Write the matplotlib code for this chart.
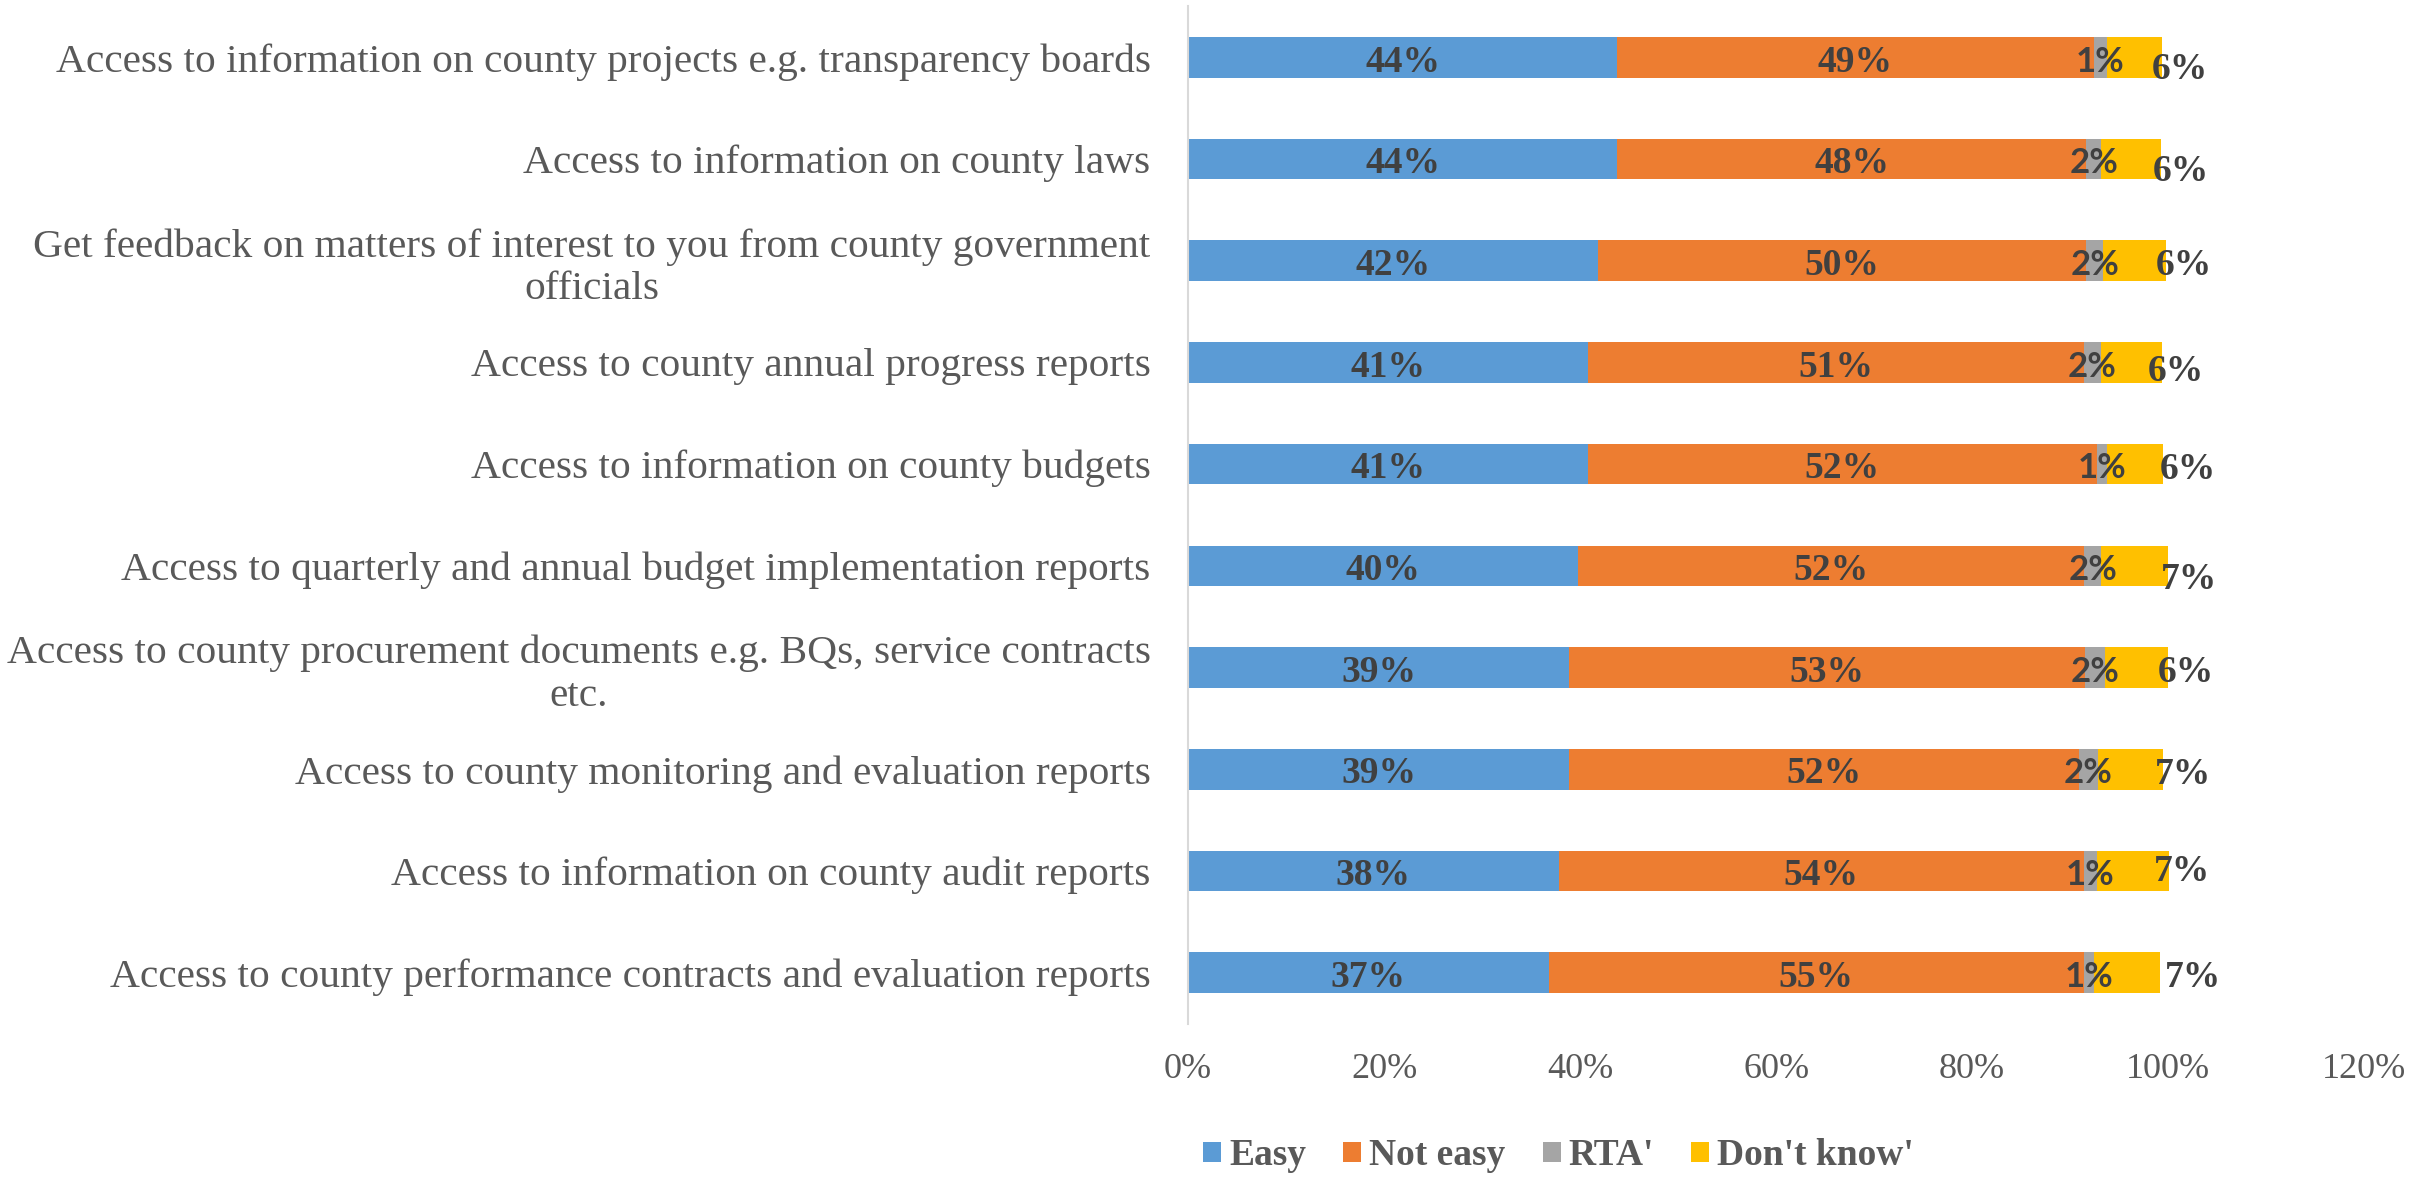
import matplotlib
matplotlib.use("Agg")
import matplotlib.pyplot as plt
from matplotlib.patches import Patch

# ---- data (percent), top bar first ----------------------------------------
categories = [
    "Access to information on county projects e.g. transparency boards",
    "Access to information on county laws",
    "Get feedback on matters of interest to you from county government\nofficials",
    "Access to county annual progress reports",
    "Access to information on county budgets",
    "Access to quarterly and annual budget implementation reports",
    "Access to county procurement documents e.g. BQs, service contracts\netc.",
    "Access to county monitoring and evaluation reports",
    "Access to information on county audit reports",
    "Access to county performance contracts and evaluation reports",
]
easy = [43.8, 43.8, 41.8, 40.8, 40.8, 39.8, 38.9, 38.9, 37.8, 36.8]
not_easy = [48.6, 47.8, 49.8, 50.6, 51.9, 51.6, 52.6, 52.0, 53.6, 54.6]
rta = [1.4, 1.6, 1.8, 1.7, 1.1, 1.8, 2.1, 1.9, 1.3, 1.0]
dont_know = [5.6, 6.1, 6.4, 6.3, 5.7, 6.8, 6.4, 6.7, 7.4, 6.8]

series_names = ["Easy", "Not easy", "RTA'", "Don't know'"]
colors = ["#5B9BD5", "#ED7D31", "#A5A5A5", "#FFC000"]
x_ticks = [0, 20, 40, 60, 80, 100, 120]

# manual nudges (pixels) of the "Don't know'" labels, as placed in the source
dk_dx = [18, 20, 18, 14, 25, 21, 18, 20, 13, 33]
dk_dy = [9, 9, 2, 6, 2, 10, 2, 2, -3, 2]

SERIF = "Liberation Serif"
plt.rcParams["font.family"] = SERIF
LAB_COL = "#404040"
BASE = 12.7  # half digit height in px -> baseline placement

fig = plt.figure(figsize=(24.33, 11.77), dpi=100)
ax = fig.add_axes([0.4883, 0.1304, 0.4834, 0.8641])

ypos = list(range(len(categories)))
left = [0.0] * len(categories)
for vals, col in zip([easy, not_easy, rta, dont_know], colors):
    ax.barh(ypos, vals, left=left, height=0.4, color=col, linewidth=0)
    left = [l + v for l, v in zip(left, vals)]


def put(x, y, txt, dx=0, dy=1.5, family=SERIF, size=27):
    ax.annotate(txt, xy=(x, y), xytext=(dx, -(dy + BASE)),
                textcoords="offset pixels", ha="center", va="baseline",
                fontsize=size, fontweight="bold", color=LAB_COL, family=family)


for i in ypos:
    put(easy[i] / 2, i, f"{easy[i]:.0f}%")
    put(easy[i] + not_easy[i] / 2, i, f"{not_easy[i]:.0f}%")
    put(easy[i] + not_easy[i] + rta[i] / 2, i, f"{rta[i]:.0f}%",
        family="Lato", size=25)
    end = easy[i] + not_easy[i] + rta[i] + dont_know[i]
    put(end, i, f"{dont_know[i]:.0f}%", dx=dk_dx[i], dy=dk_dy[i])

ax.set_xlim(0, 120)
ax.set_ylim(len(categories) - 0.5, -0.5)
ax.set_xticks(x_ticks)
ax.set_xticklabels([f"{t}%" for t in x_ticks])
ax.set_yticks(ypos)
ax.set_yticklabels(categories, multialignment="center")
ax.tick_params(axis="x", length=0, pad=21, labelsize=26, labelcolor="#595959")
ax.tick_params(axis="y", length=0, pad=27, labelsize=29.8, labelcolor="#595959")
for s in ["top", "right", "bottom"]:
    ax.spines[s].set_visible(False)
ax.spines["left"].set_color("#D9D9D9")
ax.spines["left"].set_linewidth(1.5)

handles = [Patch(facecolor=c, edgecolor="none") for c in colors]
leg = fig.legend(handles, series_names, loc="center", ncol=4,
                 bbox_to_anchor=(0.6405, 0.018), frameon=False,
                 prop={"family": SERIF, "weight": "bold", "size": 27},
                 handlelength=0.48, handleheight=0.48, handletextpad=0.2,
                 columnspacing=1.0, borderpad=0)
for t in leg.get_texts():
    t.set_color("#595959")

fig.savefig("out.png", dpi=100)
